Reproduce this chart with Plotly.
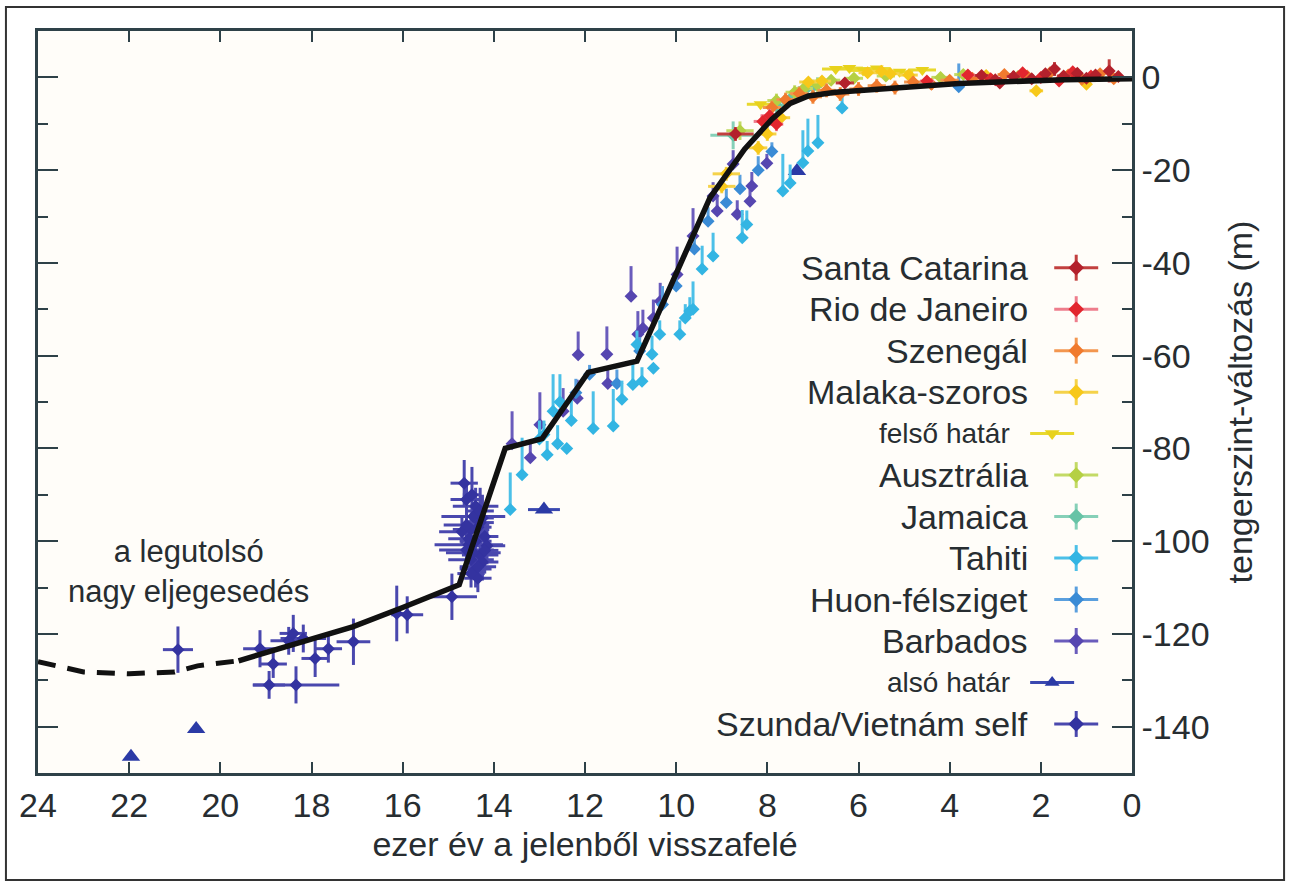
import plotly.graph_objects as go

FONT = "Liberation Sans, Arial, Helvetica, sans-serif"
TXT = "#272d31"
AX = "#2e4148"

# ---------------- data (ka BP, sea-level change in m) ----------------
curve_solid_x = [19.6, 17.1, 16.0, 14.76, 13.75, 12.94, 11.93, 10.86, 10.0, 9.26, 8.5, 7.9, 7.5, 7.1, 6.5, 5.2, 3.8, 1.5, 0.0]
curve_solid_y = [-125.8, -118.5, -114.3, -109.4, -80.0, -77.9, -63.6, -61.2, -42.3, -26.0, -15.5, -9.0, -5.6, -4.0, -3.2, -2.3, -1.3, -0.5, -0.3]
curve_dash_x = [24.0, 23.0, 22.0, 21.0, 20.5, 19.6]
curve_dash_y = [-126.0, -128.2, -128.6, -128.2, -126.9, -125.8]

sc_x = [8.7, 6.3, 3.3, 3.0, 2.9, 2.6, 2.2, 1.9, 1.7, 1.5, 1.2, 1.0, 0.8, 0.5, 0.3]
sc_y = [-12.2, -1.2, 0.4, -0.5, -1.2, 0.2, -0.3, 0.8, 1.8, 0.3, 0.9, -0.2, 0.5, 1.4, 0.2]
sc_ex = [0.4, 0.2, 0.15, 0.15, 0.1, 0.15, 0.15, 0.1, 0.1, 0.15, 0.1, 0.1, 0.1, 0.1, 0.1]
sc_ey = [1.5, 1.0, 1.0, 1.0, 1.0, 1.2, 1.0, 1.0, 1.5, 1.0, 1.0, 1.0, 1.0, 2.5, 1.0]

rj_x = [8.1, 7.95, 7.8, 4.5, 3.6, 3.1, 2.4, 2.0, 1.6, 1.3, 0.9]
rj_y = [-9.5, -8.3, -10.1, -0.8, 0.5, -0.3, 1.0, 0.0, -0.8, 1.2, 0.3]
rj_ex = [0.2, 0.2, 0.15, 0.15, 0.15, 0.1, 0.1, 0.1, 0.1, 0.1, 0.1]
rj_ey = [1.5, 1.5, 1.5, 1.0, 1.0, 1.0, 1.0, 1.0, 1.0, 1.0, 1.0]

sn_x = [7.9, 7.6, 7.3, 7.0, 6.7, 6.4, 6.0, 5.6, 5.2, 4.8, 4.4, 4.0, 3.5, 2.8, 2.3, 1.8, 1.4, 1.1, 0.7, 0.4]
sn_y = [-6.5, -4.8, -3.5, -4.2, -2.8, -3.6, -2.5, -1.8, -2.2, -1.0, -1.5, -0.6, -0.2, 0.6, 0.3, 1.0, 0.5, -0.4, 0.8, -0.3]
sn_ex = [0.2, 0.2, 0.2, 0.2, 0.2, 0.2, 0.2, 0.2, 0.2, 0.2, 0.2, 0.2, 0.15, 0.15, 0.15, 0.1, 0.1, 0.1, 0.1, 0.1]
sn_ey = [1.5, 1.5, 1.5, 1.5, 1.5, 1.5, 1.5, 1.5, 1.5, 1.2, 1.2, 1.0, 1.0, 1.0, 1.0, 1.0, 1.0, 1.0, 1.0, 1.0]

ml_x = [9.0, 8.9, 8.2, 8.0, 7.7, 7.1, 6.8, 5.8, 5.5, 5.3, 4.9, 3.2, 2.1, 1.0]
ml_y = [-23.5, -20.8, -15.2, -12.2, -8.7, -1.0, -0.8, 1.0, 1.3, 0.8, 0.5, 0.4, -2.9, -1.5]
ml_ex = [0.3, 0.3, 0.2, 0.2, 0.2, 0.2, 0.2, 0.2, 0.2, 0.2, 0.2, 0.15, 0.15, 0.1]
ml_ey = [1.5, 1.5, 1.5, 1.5, 1.5, 1.0, 1.0, 1.0, 1.0, 1.0, 1.0, 1.0, 1.0, 1.0]

fh_x = [8.15, 6.5, 6.2, 5.9, 5.6, 5.1, 4.6]
fh_y = [-5.8, 1.8, 2.0, 1.5, 1.9, 1.2, 1.6]
fh_ex = [0.3, 0.3, 0.3, 0.3, 0.3, 0.3, 0.3]

au_x = [8.6, 7.8, 7.4, 7.2, 6.9, 6.6, 6.1, 5.4, 4.2, 3.7, 2.5]
au_y = [-11.5, -5.0, -3.2, -2.4, -1.6, -0.6, -0.2, 0.3, 0.0, 0.6, 0.2]
au_ex = [0.3, 0.2, 0.2, 0.2, 0.2, 0.2, 0.2, 0.2, 0.2, 0.2, 0.2]
au_ey = [2.0, 1.5, 1.5, 1.5, 1.5, 1.0, 1.0, 1.0, 1.0, 1.0, 1.0]

jm_x = [8.75, 7.8, 7.6, 7.45, 7.3, 7.15, 7.0, 6.9]
jm_y = [-12.5, -6.0, -5.0, -4.2, -3.4, -2.5, -2.0, -1.5]
jm_ex = [0.5, 0.2, 0.2, 0.2, 0.2, 0.2, 0.2, 0.2]
jm_ey = [3.0, 1.5, 1.5, 1.5, 1.5, 1.5, 1.5, 1.5]

th_x = [13.64, 13.38, 13.0, 12.9, 12.83, 12.7, 12.6, 12.55, 12.4, 12.3, 11.82, 11.38, 11.19, 10.95, 10.86, 10.75, 10.53, 10.5, 10.36, 9.92, 9.8, 9.7, 9.63, 9.43, 9.19, 8.55, 8.45, 7.66, 7.5, 7.22, 7.11, 6.89, 6.36]
th_y = [-93.2, -85.7, -78.0, -77.0, -81.4, -72.0, -79.0, -70.0, -80.0, -74.0, -75.7, -75.2, -69.4, -66.2, -57.6, -65.5, -59.7, -62.7, -55.4, -55.4, -51.9, -50.4, -50.0, -41.3, -38.5, -34.6, -31.7, -24.5, -22.8, -18.4, -15.9, -14.1, -6.6]
th_up = [8, 8, 4, 3, 3, 8, 4, 6, 0, 5, 8, 8, 4, 5, 3, 3, 4, 0, 3, 3, 3, 3, 6, 5, 5, 6, 3, 8, 4, 7, 7, 6, 3]

hu_x = [12.2, 11.9, 11.3, 10.8, 10.3, 10.0, 9.6, 9.3, 8.9, 8.6, 8.2, 7.9, 3.8]
hu_y = [-68.0, -64.0, -66.0, -59.0, -49.0, -45.0, -37.0, -31.0, -27.0, -24.0, -20.0, -16.0, -2.0]
hu_up = [3, 2, 3, 3, 4, 3, 3, 3, 3, 3, 3, 2, 5]

bb_x = [13.6, 13.2, 12.99, 12.48, 12.17, 12.15, 11.52, 11.5, 10.99, 10.84, 10.73, 10.5, 10.35, 9.98, 9.63, 9.19, 9.1, 8.75, 8.66, 8.38, 8.34, 8.01]
bb_y = [-79.0, -82.0, -74.9, -72.0, -69.2, -59.8, -59.7, -66.0, -47.2, -55.4, -54.1, -51.9, -48.3, -42.5, -34.2, -25.6, -28.8, -18.7, -29.5, -26.7, -23.4, -18.5]
bb_up = [7, 3, 7, 5, 4, 5, 6, 3, 6.5, 5, 4, 4, 4, 6, 6, 3, 3, 3, 3, 3, 3, 2]

ah_x = [21.96, 20.53, 12.9, 7.35]
ah_y = [-146.5, -140.5, -93.2, -20.2]
ah_ex = [0.0, 0.0, 0.35, 0.0]

sv_x = [20.93, 19.13, 18.93, 18.84, 18.5, 18.4, 18.34, 18.18, 17.92, 17.63, 17.08, 16.13, 15.9, 14.92,
        14.6, 14.48, 14.45, 14.55, 14.6, 14.35, 14.3, 14.5, 14.2, 14.4, 14.25, 14.7, 14.15, 14.5, 14.35,
        14.65, 14.4, 14.3, 14.55, 14.45, 14.25, 14.35, 14.5, 14.2, 14.6, 14.4, 14.3]
sv_y = [-123.4, -123.2, -131.0, -126.5, -121.5, -119.9, -131.0, -121.0, -125.3, -123.2, -121.7, -115.6, -115.9, -112.0,
        -91.0, -90.0, -94.7, -100.8, -101.9, -97.0, -103.0, -104.0, -99.0, -106.0, -95.0, -98.0, -101.0, -97.5, -108.0,
        -87.5, -92.5, -96.0, -99.5, -102.5, -104.5, -105.5, -107.0, -102.0, -96.5, -100.0, -93.5]
sv_ex = [0.33, 0.37, 0.35, 0.3, 0.4, 0.3, 0.95, 0.5, 0.3, 0.3, 0.37, 0.3, 0.35, 0.55,
         0.35, 0.2, 0.7, 0.75, 0.6, 0.3, 0.4, 0.5, 0.3, 0.35, 0.25, 0.5, 0.4, 0.4, 0.3,
         0.3, 0.5, 0.3, 0.45, 0.6, 0.35, 0.4, 0.3, 0.3, 0.5, 0.35, 0.3]
sv_ey = [5, 4, 3, 3, 3, 4, 4, 3, 4, 3, 5, 6, 4, 5,
         4, 6, 3, 3, 3, 4, 5, 3, 3, 4, 5, 3, 4, 3, 3,
         5, 4, 5, 4, 3, 4, 3, 3, 5, 4, 4, 5]

legend_labels = ["Santa Catarina", "Rio de Janeiro", "Szenegál", "Malaka-szoros", "felső határ",
                 "Ausztrália", "Jamaica", "Tahiti", "Huon-félsziget", "Barbados", "alsó határ",
                 "Szunda/Vietnám self"]

x_ticks = [24, 22, 20, 18, 16, 14, 12, 10, 8, 6, 4, 2, 0]
y_ticks = [0, -20, -40, -60, -80, -100, -120, -140]

# ---------------- styles ----------------
C = {
    "Santa Catarina": ("#b3212c", "#c2403f"),
    "Rio de Janeiro": ("#e2262e", "#ee7d8c"),
    "Szenegál": ("#f07a2e", "#f3964f"),
    "Malaka-szoros": ("#f7c81a", "#f5d24a"),
    "felső határ": ("#e8d21c", "#e8d82e"),
    "Ausztrália": ("#b5d043", "#c3da66"),
    "Jamaica": ("#67c3a6", "#86d0b8"),
    "Tahiti": ("#33b5e3", "#4cc0e8"),
    "Huon-félsziget": ("#3a8bd5", "#5a9fde"),
    "Barbados": ("#5646b0", "#6a5cbc"),
    "alsó határ": ("#2b3aa6", "#3a48b0"),
    "Szunda/Vietnám self": ("#3433a0", "#4a48ae"),
}
MS = 10
EW = 3

fig = go.Figure()


def sym_trace(name, xs, ys, ex, ey, symbol="diamond", size=MS):
    mc, ec = C[name]
    return go.Scatter(
        x=xs, y=ys, mode="markers", showlegend=False,
        marker=dict(symbol=symbol, size=size, color=mc, line=dict(width=0)),
        error_x=dict(type="data", array=ex, visible=ex is not None, color=ec, thickness=EW, width=0),
        error_y=dict(type="data", array=ey, visible=ey is not None, color=ec, thickness=EW, width=0),
    )


def up_trace(name, xs, ys, up):
    mc, ec = C[name]
    return go.Scatter(
        x=xs, y=ys, mode="markers", showlegend=False,
        marker=dict(symbol="diamond", size=MS, color=mc, line=dict(width=0)),
        error_y=dict(type="data", symmetric=False, array=up, arrayminus=[0] * len(up),
                     color=ec, thickness=EW, width=0),
    )


# draw order: bottom of legend first
fig.add_trace(sym_trace("Szunda/Vietnám self", sv_x, sv_y, sv_ex, sv_ey))
fig.add_trace(sym_trace("alsó határ", ah_x, ah_y, ah_ex, None, symbol="triangle-up", size=16))
fig.add_trace(up_trace("Barbados", bb_x, bb_y, bb_up))
fig.add_trace(up_trace("Huon-félsziget", hu_x, hu_y, hu_up))
fig.add_trace(up_trace("Tahiti", th_x, th_y, th_up))
fig.add_trace(sym_trace("Jamaica", jm_x, jm_y, jm_ex, jm_ey))
fig.add_trace(sym_trace("Ausztrália", au_x, au_y, au_ex, au_ey))
fig.add_trace(sym_trace("felső határ", fh_x, fh_y, fh_ex, None, symbol="triangle-down", size=12))
fig.add_trace(sym_trace("Malaka-szoros", ml_x, ml_y, ml_ex, ml_ey))
fig.add_trace(sym_trace("Szenegál", sn_x, sn_y, sn_ex, sn_ey))
fig.add_trace(sym_trace("Rio de Janeiro", rj_x, rj_y, rj_ex, rj_ey))
fig.add_trace(sym_trace("Santa Catarina", sc_x, sc_y, sc_ex, sc_ey))

# sea-level curve
fig.add_trace(go.Scatter(x=curve_dash_x, y=curve_dash_y, mode="lines", showlegend=False,
                         line=dict(color="#111111", width=5, dash="18px,12px")))
fig.add_trace(go.Scatter(x=curve_solid_x, y=curve_solid_y, mode="lines", showlegend=False,
                         line=dict(color="#111111", width=5.5)))

# ---------------- custom legend (text left of key) ----------------
row_top = 0.681
row_step = 0.0559
for i, lab in enumerate(legend_labels):
    yy = row_top - i * row_step
    mc, ec = C[lab]
    small = lab in ("felső határ", "alsó határ")
    if small:
        kx = 0.927
        sym = "triangle-down" if lab == "felső határ" else "triangle-up"
        fig.add_trace(go.Scatter(
            x=[kx], y=[yy], xaxis="x2", yaxis="y2", mode="markers", showlegend=False,
            marker=dict(symbol=sym, size=13, color=mc),
            error_x=dict(type="data", array=[0.0201], color=ec, thickness=EW, width=0)))
        fig.add_annotation(x=0.8905, y=yy, xref="paper", yref="paper", text=lab,
                           xanchor="right", yanchor="middle", showarrow=False,
                           font=dict(family=FONT, size=28, color=TXT))
    else:
        kx = 0.949
        fig.add_trace(go.Scatter(
            x=[kx], y=[yy], xaxis="x2", yaxis="y2", mode="markers", showlegend=False,
            marker=dict(symbol="diamond", size=12, color=mc),
            error_x=dict(type="data", array=[0.0201], color=ec, thickness=EW, width=0),
            error_y=dict(type="data", array=[0.0175], color=ec, thickness=EW, width=0)))
        fig.add_annotation(x=0.9068, y=yy, xref="paper", yref="paper", text=lab,
                           xanchor="right", yanchor="middle", showarrow=False,
                           font=dict(family=FONT, size=34, color=TXT))

fig.add_annotation(x=0.138, y=0.272, xref="paper", yref="paper",
                   text="a legutolsó<br>nagy eljegesedés", showarrow=False,
                   xanchor="center", yanchor="middle", align="center",
                   font=dict(family=FONT, size=31, color=TXT))

# outer frame
fig.add_shape(type="rect", xref="paper", yref="paper",
              x0=-0.0293, x1=1.139, y0=-0.1442, y1=1.0323,
              line=dict(color="#333333", width=2), fillcolor="rgba(0,0,0,0)", layer="below")

fig.update_layout(
    width=1290, height=886,
    margin=dict(l=38, r=158, t=31, b=113),
    paper_bgcolor="white", plot_bgcolor="#fffdf9",
    font=dict(family=FONT, size=34, color=TXT),
    xaxis=dict(
        range=[24, 0], tickvals=x_ticks, ticktext=[str(v) for v in x_ticks],
        ticks="inside", ticklen=11, tickwidth=2, tickcolor=AX,
        showline=True, linewidth=2.5, linecolor=AX, mirror="ticks",
        showgrid=False, zeroline=False,
        tickfont=dict(family=FONT, size=34, color=TXT),
        title=dict(text="ezer év a jelenből visszafelé", standoff=10,
                   font=dict(family=FONT, size=34, color=TXT)),
    ),
    yaxis=dict(
        side="right", range=[-150, 10], tickvals=y_ticks, ticktext=[str(v) for v in y_ticks],
        ticks="inside", ticklen=20, tickwidth=2, tickcolor=AX,
        minor=dict(dtick=10, tick0=0, ticks="inside", ticklen=10, tickwidth=2, tickcolor=AX),
        showline=True, linewidth=2.5, linecolor=AX, mirror="ticks",
        showgrid=False, zeroline=False,
        tickfont=dict(family=FONT, size=34, color=TXT),
        title=dict(text="tengerszint-változás (m)", standoff=20,
                   font=dict(family=FONT, size=34, color=TXT)),
    ),
    xaxis2=dict(overlaying="x", range=[0, 1], visible=False, fixedrange=True),
    yaxis2=dict(overlaying="y", range=[0, 1], visible=False, fixedrange=True, anchor="x2"),
)

fig.write_html("out.html")
